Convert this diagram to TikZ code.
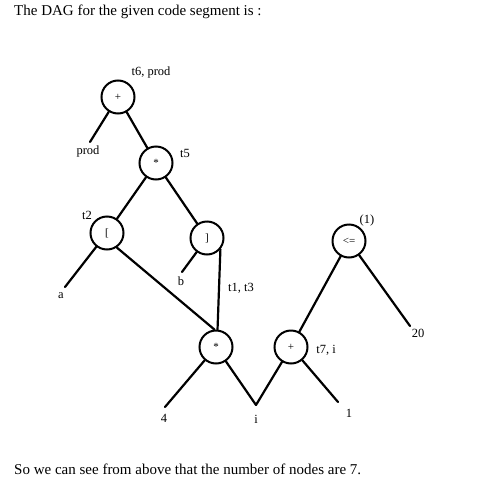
\documentclass[tikz,border=0pt]{standalone}
\usepackage{fontspec}
\setmainfont{Liberation Serif}
\usepackage{tikz}
\tikzstyle{Node}=[circle,draw=black,line width=2pt,minimum size=33pt,
inner sep=0pt,font=\fontsize{11}{11}\selectfont]
\tikzstyle{Edge}=[draw=black,line width=2.2pt,line cap=round]
\tikzstyle{NodeST}=[inner sep=0pt,font=\fontsize{12.5}{12.5}\selectfont]
\tikzstyle{Line}=[anchor=west,inner sep=0pt,font=\fontsize{15}{15}\selectfont]

\begin{document}
\begin{tikzpicture}[x=1pt,y=-1pt]
        \useasboundingbox(0,0)rectangle(500,490);
        \node[Line](h)at(14,12){The DAG for the given code segment is :};
        \node[Line](f)at(14,469)
            {So we can see from above that the number of nodes are 7.};
        \node[Node](1)at(118,97){+};
        \node[Node](2)at(156,163){*};
        \node[Node](3)at(107,233){[};
        \node[Node](4)at(207,238){]};
        \node[Node](5)at(216,347){*};
        \node[Node](6)at(291,347){+};
        \node[Node](7)at(349,241){<=};
        \coordinate(8)at(90,142);
        \coordinate(9)at(65,287);
        \coordinate(10)at(182,272);
        \coordinate(11)at(165,407);
        \coordinate(12)at(256,405);
        \coordinate(13)at(338,402);
        \coordinate(14)at(410,326);
        \node[NodeST](8t)at(88,151){prod};
        \node[NodeST](9t)at(61,296){a};
        \node[NodeST](10t)at(181,281){b};
        \node[NodeST](11t)at(164,418){4};
        \node[NodeST](12t)at(256,419){i};
        \node[NodeST](13t)at(349,413){1};
        \node[NodeST](14t)at(418,333){20};
        \node[NodeST](1t)at(151,72){t6, prod};
        \node[NodeST](2t)at(185,153){t5};
        \node[NodeST](3t)at(87,215){t2};
        \node[NodeST](4t)at(241,288){t1, t3};
        \node[NodeST](6t)at(326,350){t7, i};
        \node[NodeST](7t)at(367,220){(1)};
        \draw[Edge](1)--(8);
        \draw[Edge](1)--(2);
        \draw[Edge](2)--(3);
        \draw[Edge](2)--(4);
        \draw[Edge](3)--(9);
        \draw[Edge](3.-56)--(5.95);
        \draw[Edge](4)--(10);
        \draw[Edge](4.-40)--(5.85);
        \draw[Edge](5)--(11);
        \draw[Edge](5)--(12);
        \draw[Edge](6)--(12);
        \draw[Edge](6)--(13);
        \draw[Edge](7)--(6);
        \draw[Edge](7)--(14);
    \end{tikzpicture}
\end{document}
